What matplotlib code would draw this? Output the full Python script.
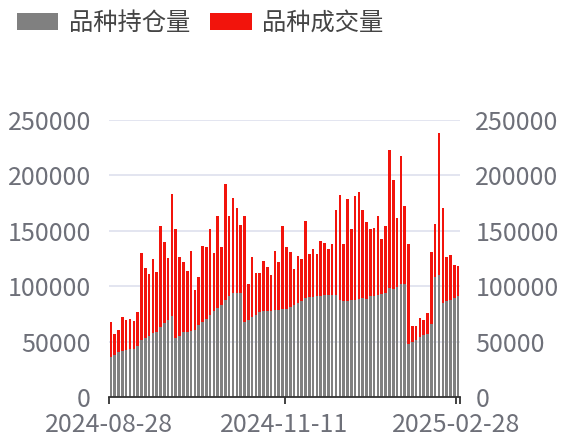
import matplotlib
matplotlib.use('Agg')
import numpy as np
from matplotlib import pyplot as plt

plt.rcParams['font.family'] = ['Noto Sans CJK SC', 'DejaVu Sans']

# 品种持仓量 (gray, bottom) and 品种成交量 (red, stacked on top)
open_interest = [
    36400, 37600, 40600, 41800, 42700, 43300, 43600, 46400, 51800, 53000,
    55100, 57900, 58800, 63000, 66700, 69700, 72700, 53300, 55400, 58500,
    59100, 59400, 60600, 64800, 67600, 70000, 73900, 77600, 80000, 83300,
    87900, 91200, 93900, 93900, 93600, 67300, 69700, 72100, 73900, 76400,
    77900, 77900, 77600, 78500, 78800, 79100, 79700, 81500, 83300, 85100,
    87000, 89400, 90000, 90600, 90900, 91200, 92400, 92400, 92100, 91800,
    87900, 86700, 86700, 87300, 87600, 88800, 89100, 88800, 90900, 91500,
    92400, 93300, 94200, 98800, 97300, 99100, 101800, 101800, 48200, 49400,
    51500, 54500, 55800, 57000, 66100, 107900, 109700, 85100, 87000, 87900,
    89400, 90900,
]
volume = [
    30900, 19400, 20300, 30300, 26700, 27000, 25200, 30300, 78500, 63000,
    55500, 66300, 54200, 91200, 73600, 55700, 110600, 97900, 71000, 63000,
    54200, 72700, 35800, 43100, 68400, 65400, 77300, 52100, 83300, 52400,
    104500, 71800, 85800, 77000, 61500, 96300, 32400, 53900, 37600, 35100,
    44800, 39700, 32100, 53600, 43300, 74800, 55400, 49100, 32400, 41900,
    37500, 69100, 38800, 43000, 37900, 49700, 47000, 41200, 46400, 77300,
    94500, 51200, 91800, 63900, 94200, 96300, 80000, 69400, 60600, 61200,
    70600, 49400, 59700, 124200, 98100, 62400, 115800, 70300, 90300, 14500,
    13000, 17000, 13600, 19100, 64800, 47800, 128300, 85800, 39700, 40300,
    30000, 27000,
]
date_labels = ['2024-08-28', '2024-11-11', '2025-02-28']
label_index = [0, 46, len(volume) - 1]
y_ticks = [0, 50000, 100000, 150000, 200000, 250000]

GRAY = '#808080'
RED = '#f2140c'
TXT = '#6e7079'

fig = plt.figure(figsize=(5.63, 4.37), dpi=100)
ax = fig.add_axes([109 / 563, 1 - 397 / 437, 351 / 563, 277 / 437])

x = np.arange(len(volume))
oi = np.asarray(open_interest)
vol = np.asarray(volume)
ax.bar(x, oi, width=0.68, color=GRAY, label='品种持仓量', zorder=2)
ax.bar(x, vol, bottom=oi, width=0.68, color=RED, label='品种成交量', zorder=2)

ax.set_xlim(-0.5, len(volume) - 0.5)
ax.set_ylim(0, 250000)
ax.set_yticks(y_ticks)
ax.set_yticklabels([str(v) for v in y_ticks])
for v in y_ticks[1:]:
    ax.axhline(v, color='#e0e3ef', lw=1.3, zorder=1)
ax.tick_params(axis='y', length=0, labelsize=18, labelcolor=TXT, pad=13)

# right-hand copy of the value axis
ax2 = ax.twinx()
ax2.set_ylim(ax.get_ylim())
ax2.set_yticks(y_ticks)
ax2.set_yticklabels([str(v) for v in y_ticks])
ax2.tick_params(axis='y', length=0, labelsize=18, labelcolor=TXT, pad=11)

ticks = [i - 0.5 for i in label_index] + [len(volume) - 0.5]
ax.set_xticks(ticks)
ax.set_xticklabels(date_labels + [''])
ax.tick_params(axis='x', length=5, width=1.3, color='#333333', labelsize=18,
               labelcolor=TXT, pad=6)

for a in (ax, ax2):
    for s in ['top', 'left', 'right', 'bottom']:
        a.spines[s].set_visible(False)
ax.spines['bottom'].set_visible(True)
ax.spines['bottom'].set_color('#333333')
ax.spines['bottom'].set_linewidth(1.3)
ax.spines['bottom'].set_zorder(3)

fig.legend(loc='center left', bbox_to_anchor=(17 / 563, 1 - 23 / 437), ncol=2,
           frameon=False, fontsize=17.5, handlelength=1.7, handleheight=0.7,
           columnspacing=0.85, handletextpad=0.42, borderpad=0, borderaxespad=0,
           labelcolor='#444444')

fig.savefig('out.png', dpi=100)
